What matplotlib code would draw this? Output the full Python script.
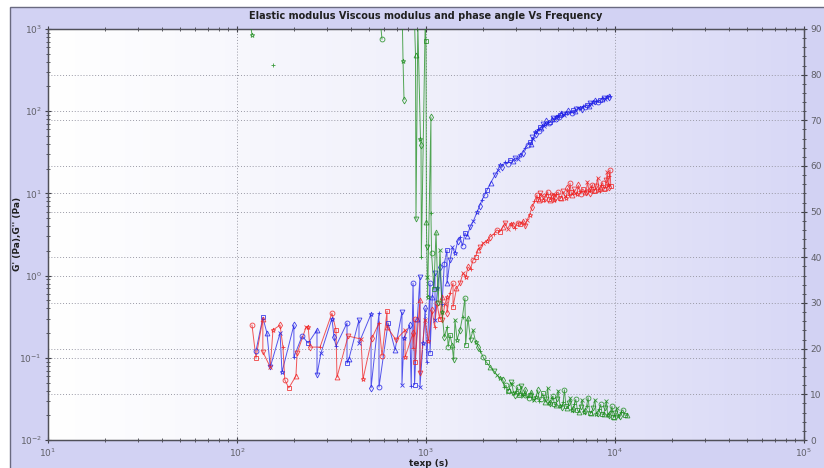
import numpy as np
import matplotlib
matplotlib.use('Agg')
import matplotlib.pyplot as plt
from matplotlib.colors import LinearSegmentedColormap
from matplotlib.patches import Rectangle
from matplotlib.ticker import LogLocator, MultipleLocator, NullFormatter

nan = np.nan

# G' (Pa) -- blue
t_gp = [126, 137, 144, 150, 169, 173, 200, 200, 221, 238, 265, 265, 278, 318, 326, 334,
        382, 382, 391, 442, 442, 512, 512, 564, 564, 630, 686, 746, 746, 765, 820, 835,
        854, 870, 900, 929, 929, 964, 990, 1010, 1050, 1050, 1080, 1116, 1116, 1150, 1186,
        1216, 1250, 1292, 1292, 1340, 1380, 1423, 1470, 1514, 1560, 1607, 1650, 1709, 1780,
        1862, 1920, 1977, 2040, 2103, 2200, 2318, 2400, 2450, 2530, 2620, 2700, 2770, 2880,
        2960, 3050, 3142, 3250, 3350, 3450, 3548, 3600, 3650, 3700, 3776, 3840, 3900, 3950,
        4010, 4080, 4150, 4200, 4266, 4330, 4400, 4460, 4532, 4620, 4700, 4780, 4850, 4920,
        5000, 5060, 5120, 5200, 5300, 5400, 5500, 5640, 5781, 5900, 6000, 6120, 6250, 6400,
        6530, 6650, 6800, 6950, 7100, 7250, 7400, 7500, 7650, 7800, 7950, 8150, 8337, 8500,
        8700, 8850, 9070, 9250, 9413]
gp = [0.121, 0.31, 0.20, 0.077, 0.20, 0.067, 0.25, 0.102, 0.184, 0.151, 0.218, 0.062, 0.114,
      0.30, 0.179, 0.139, 0.265, 0.086, 0.097, 0.29, 0.151, 0.34, 0.043, 0.35, 0.044, 0.265,
      0.125, 0.36, 0.047, 0.174, 0.25, 0.045, 0.81, 0.047, 0.30, 0.96, 0.044, 0.151, 0.40,
      0.09, 0.81, 0.114, 0.55, 1.08, 0.29, 0.70, 1.27, 0.45, 1.4, 2.05, 0.81, 1.55, 2.2, 1.88,
      2.6, 2.95, 2.3, 3.3, 3.0, 3.9, 4.6, 5.9, 7.0, 8.3, 9.5, 11, 13.5, 16.7, 19, 22, 21, 24,
      23, 25.5, 24.5, 27, 26, 29, 31, 36, 39, 42, 40, 48, 46, 56, 53, 60, 58,
      64, 62, 69, 66, 70, 75, 74, 71, 74, 80, 82, 78, 86, 83,
      88, 85, 90, 95, 92, 90, 96, 100, 98, 95, 103, 100, 105, 110,
      109, 105, 115, 112, 120, 116, 125, 121, 129, 134, 132, 128, 137, 142,
      145, 140, 150, 148, 155]

# G'' (Pa) -- red
t_gpp = [120, 126, 137, 137, 150, 155, 169, 175, 179, 188, 205, 208, 232, 238, 243, 275,
         318, 334, 338, 387, 453, 464, 518, 564, 585, 622, 622, 694, 775, 775, 854, 854,
         875, 875, 929, 929, 988, 1030, 1076, 1110, 1143, 1180, 1216, 1216, 1260, 1292, 1292,
         1340, 1390, 1390, 1450, 1514, 1570, 1620, 1667, 1720, 1773, 1830, 1884, 1940, 2003,
         2090, 2181, 2280, 2376, 2450, 2553, 2620, 2700, 2800, 2884, 2960, 3050, 3142, 3250,
         3350, 3421, 3530, 3640, 3750, 3864, 3900, 3950, 4020, 4100, 4180, 4266, 4330, 4400,
         4480, 4550, 4620, 4700, 4760, 4817, 4900, 5000, 5100, 5200, 5300, 5430, 5520, 5600,
         5700, 5781, 5860, 5950, 6050, 6143, 6270, 6400, 6500, 6600, 6750, 6900, 7020, 7150,
         7270, 7400, 7500, 7600, 7720, 7834, 7950, 8100, 8220, 8337, 8470, 8600, 8750, 8900,
         9000, 9100, 9180, 9250, 9330, 9413, 9500]
gpp = [0.25, 0.10, 0.30, 0.118, 0.077, 0.218, 0.25, 0.135, 0.054, 0.043, 0.060, 0.114, 0.237,
       0.237, 0.135, 0.135, 0.35, 0.218, 0.058, 0.184, 0.169, 0.055, 0.174, 0.265, 0.105, 0.37,
       0.237, 0.165, 0.218, 0.102, 0.20, 0.131, 0.30, 0.089, 0.50, 0.065, 0.29, 0.16, 0.38, 0.24,
       0.46, 0.30, 0.55, 0.29, 0.45, 0.55, 0.35, 0.62, 0.81, 0.415, 0.70, 0.81, 1.08, 0.95, 1.27,
       1.2, 1.55, 1.7, 2.05, 2.2, 2.49, 2.6, 2.95, 3.2, 3.6, 3.4, 3.9, 4.4, 3.7, 4.3, 4.1, 3.8,
       4.4, 4.2, 4.6, 4.0, 4.7, 5.5, 6.8, 8.0, 9.6, 8.6, 8.2, 10.0, 9.5, 8.4, 8.8, 9.7, 10.5,
       8.6, 8.4, 9.4, 9.8, 8.3, 8.8, 9.9, 10.4, 8.7, 8.9, 10.6, 9.3, 8.9, 11.5,
       9.5, 13.3, 10.3, 9.6, 11.2, 10.1, 9.7, 12.5, 10.8, 9.8, 11.4, 10.5, 10.0, 13.8,
       11.0, 10.2, 11.8, 12.8, 10.6, 11, 12.4, 15.4, 11.0, 11.2, 12.6, 13.5, 11.4, 11.6,
       14.5, 18.2, 12.5, 12.0, 16.5, 19.3, 12.2]

# phase angle (deg) -- green, right axis; nan = gap between measurement blocks
t_delta = [33, 58, 64, 88, 118, 120, 130, 155, 170, 184, 198, 243, 303, 396, 488, 575, 585,
           600, 650, 703, 750, 756, 765, 780, 820, 870, 880, 885, 905, 935, 941, 945, 990,
           1000, 1005, 1010, 1015, 1020, 1062, 1062, 1070, 1100, 1130, 1160, 1186, 1216, 1250,
           1292, 1310, 1340, 1374, 1400, 1423, 1460, 1514, 1560, 1607, 1620, 1667, 1720, 1773,
           1830, 1884, 1940, 2003, 2090, 2181, 2280, 2376, 2460, 2553, 2600, 2650, 2700, 2750,
           2800, 2850, 2900, 2958, 3000, 3050, 3100, 3150, 3200, 3250, 3300, 3350, 3420, 3505,
           3550, 3600, 3680, 3750, 3820, 3900, 3970, 4050, 4150, 4266, 4330, 4400, 4480, 4550,
           4620, 4700, 4780, 4850, 4920, 5000, 5120, 5248, 5320, 5400, 5500, 5600, 5700, 5800,
           5900, 6000, 6100, 6200, 6330, 6452, 6580, 6700, 6820, 6950, 7080, 7200, 7350, 7500,
           7650, 7834, 7950, 8100, 8250, 8400, 8550, 8700, 8850, 9000, 9150, 9300, 9470, 9640,
           9780, 9900, 10050, 10200, 10400, 10600, 10800, 11000, 11300, 11570]
delta = [91, 91, 91, 91, 91, 88.7, nan, 82.1, nan, 91, 91, 91, 91, 91, 91, 91, 87.8,
         nan, 91, 91, 91, 83.0, 74.5, nan, 91, 91, 84.3, 48.4, 91, 66.0, 64.6, 40.1, 91,
         87.4, 47.7, 42.3, 35.7, 31.3, 70.7, 49.7, 41.0, 33, 45.5, 30, 41.6, 28, 22.5,
         24.7, 20.4, 23, 20.8, 17.5, 26.3, 22, 24.1, 27, 31.1, 20.8, 26.7, 22, 24.1,
         21.5, 20.4, 19.5, 18.2, 17, 16.0, 15.2, 14.2, 13.6, 13.1, 11.5, 12.0, 10.8, 11.0,
         12.6, 12.3, 10.4, 9.9, 10.8, 11.6, 9.8, 10.2, 11.8, 9.6, 10.0, 11.0, 9.4, 9.2,
         9.9, 10.5, 9.0, 8.8, 9.5, 10.9, 8.6, 9.0, 10.2, 8.3, 9.0, 11.4, 8.2, 8.0,
         9.3, 9.6, 7.8, 7.6, 9.0, 10.8, 7.5, 7.2, 8.4, 11.0, 7.4, 7.0, 8.0, 9.2,
         6.6, 6.8, 7.9, 8.9, 6.5, 6.1, 7.3, 8.8, 6.2, 6.4, 7.5, 9.3, 6.0, 6.0,
         7.0, 8.8, 5.8, 5.9, 6.8, 7.8, 5.6, 5.6, 6.9, 8.5, 5.5, 5.4, 6.3, 7.4,
         5.1, 5.0, 6.0, 7.0, 5.2, 5.3, 6.2, 6.6, 5.4, 5.5]

markers = ['o', 's', '^', 'v', 'x', '*', 'd', '+']

fig = plt.figure(figsize=(8.24, 4.68), dpi=100, facecolor='white')
fig.patches.append(Rectangle((10 / 824, -0.1), 1.2, (468 - 7) / 468 + 0.1, transform=fig.transFigure,
                             facecolor='#d2d2f3', edgecolor='#6a6a80', lw=1.0, zorder=-10))

pos = [48 / 824, 28 / 468, 756 / 824, 411 / 468]

# gradient background of the plot area
bg = fig.add_axes(pos)
grad_cmap = LinearSegmentedColormap.from_list('bg', ['#ffffff', '#f0f0fb', '#d8d8f6'])
bg.imshow(np.linspace(0, 1, 256).reshape(1, -1), cmap=grad_cmap, aspect='auto', extent=[0, 1, 0, 1])
bg.axis('off')

ax = fig.add_axes(pos)
ax.set_facecolor('none')
ax2 = ax.twinx()
ax2.set_facecolor('none')


def draw(axis, t, y, color):
    t = np.array(t, dtype=float)
    y = np.array(y, dtype=float)
    axis.plot(t, y, '-', color=color, lw=0.7, alpha=0.75, zorder=3)
    for i, m in enumerate(markers):
        axis.plot(t[i::len(markers)], y[i::len(markers)], ls='none', marker=m, ms=3.5,
                  mfc='none', mec=color, mew=0.6, alpha=0.85, zorder=4)


draw(ax, t_gp, gp, '#1f1fe6')
draw(ax, t_gpp, gpp, '#f02020')
draw(ax2, t_delta, delta, '#1c8c1c')

ax.set_xscale('log')
ax.set_yscale('log')
ax.set_xlim(10, 1e5)
ax.set_ylim(1e-2, 1e3)
ax2.set_ylim(0, 90)

ax.xaxis.set_minor_locator(LogLocator(base=10, subs=np.arange(2, 10)))
ax.yaxis.set_minor_locator(LogLocator(base=10, subs=np.arange(2, 10)))
ax.xaxis.set_minor_formatter(NullFormatter())
ax.yaxis.set_minor_formatter(NullFormatter())
ax2.yaxis.set_major_locator(MultipleLocator(10))
ax2.yaxis.set_minor_locator(MultipleLocator(2))

grid_kw = dict(color='#9a9aa6', lw=0.7, linestyle=(0, (1, 2)))
ax.grid(True, which='major', **grid_kw)
ax2.grid(True, which='major', axis='y', **grid_kw)

for a in (ax, ax2):
    a.tick_params(which='both', direction='inout', colors='#404048', labelcolor='#606068',
                  labelsize=6.5, pad=2)
    a.tick_params(which='major', length=5, width=0.8)
    a.tick_params(which='minor', length=3, width=0.6)
    for s in a.spines.values():
        s.set_color('#505058')
        s.set_linewidth(0.9)
ax.tick_params(axis='x', which='both', top=True)
ax2.tick_params(axis='y', which='both', right=True, left=False)

fig.text(0.517, 0.966, 'Elastic modulus Viscous modulus and phase angle Vs Frequency',
         ha='center', va='center', fontsize=7, fontweight='bold', color='#202020')
fig.text(0.52, 0.009, 'texp (s)', ha='center', va='center', fontsize=6.5, fontweight='bold',
         color='#202020')
fig.text(0.021, 0.5, "G' (Pa),G'' (Pa)", ha='center', va='center', rotation=90, fontsize=6.5,
         fontweight='bold', color='#202020')

fig.savefig('out.png', dpi=100)
